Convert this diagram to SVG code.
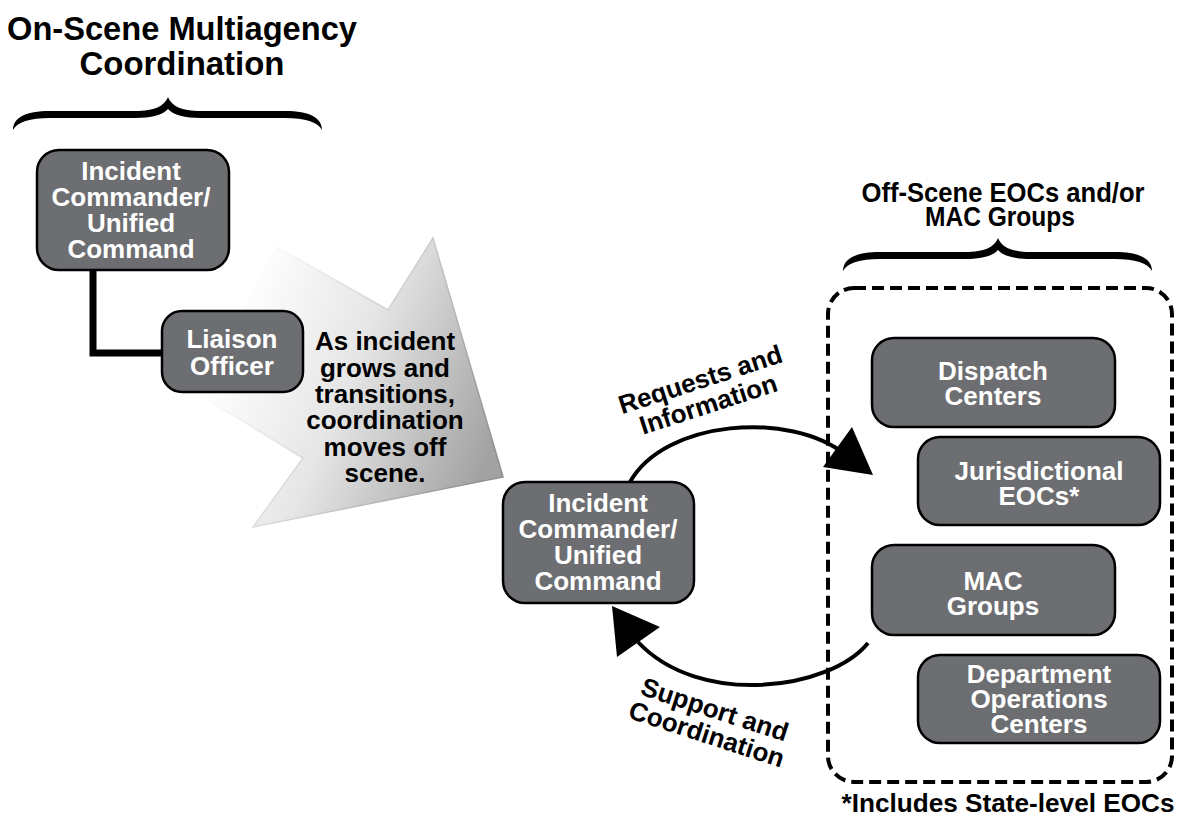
<svg xmlns="http://www.w3.org/2000/svg" xmlns:xlink="http://www.w3.org/1999/xlink" width="1177" height="817" viewBox="0 0 1177 817">
<defs>
<style>
text{font-family:"Liberation Sans",Arial,sans-serif;font-weight:bold;text-anchor:middle}
.title{font-size:34px;fill:#000}
.lbl{font-size:26px;fill:#000}
.box{fill:#6d6e71;stroke:#000;stroke-width:2.5}
.bt{font-size:26px;fill:#fff}
.conn{fill:none;stroke:#000;stroke-width:4}
.head{fill:#000;stroke:none}
</style>
<linearGradient id="ag" gradientUnits="userSpaceOnUse" x1="230" y1="320" x2="500" y2="430">
<stop offset="0" stop-color="#ffffff"/>
<stop offset="0.45" stop-color="#e6e6e6"/>
<stop offset="1" stop-color="#a2a2a2"/>
</linearGradient>
<linearGradient id="asg" gradientUnits="userSpaceOnUse" x1="230" y1="320" x2="500" y2="430">
<stop offset="0" stop-color="#ffffff"/>
<stop offset="0.5" stop-color="#cfcfcf"/>
<stop offset="1" stop-color="#8f8f8f"/>
</linearGradient>
<path id="brace" d="M13,130 C13,118 25,111 50,111 L135,111 C155,111 164,106 168,97 C172,106 181,111 201,111 L285,111 C310,111 322,118 322,130 C318,122 305,118 285,118 L201,118 C185,118 173,115 168,109 C163,115 151,118 135,118 L50,118 C30,118 17,122 13,130 Z" fill="#000"/>
</defs>
<rect width="1177" height="817" fill="#fff"/>

<!-- big transition arrow -->
<g id="transition-arrow">
<polygon points="277,247 388,310 433,238 503,477 253,527 303,458 200,395" fill="url(#ag)" stroke="url(#asg)" stroke-width="1.5" stroke-linejoin="miter"/>
<text class="lbl" x="385" y="350">As incident</text>
<text class="lbl" x="385" y="377">grows and</text>
<text class="lbl" x="385" y="403">transitions,</text>
<text class="lbl" x="385" y="429">coordination</text>
<text class="lbl" x="385" y="456">moves off</text>
<text class="lbl" x="385" y="482">scene.</text>
</g>

<!-- titles and braces -->
<g id="title-onscene">
<text class="title" x="182" y="40" textLength="350" lengthAdjust="spacingAndGlyphs">On-Scene Multiagency</text>
<text class="title" x="182" y="75" textLength="205" lengthAdjust="spacingAndGlyphs">Coordination</text>
<use xlink:href="#brace" href="#brace"/>
</g>
<g id="title-offscene">
<text class="title" style="font-size:28px" x="1003" y="202" textLength="283" lengthAdjust="spacingAndGlyphs">Off-Scene EOCs and/or</text>
<text class="title" style="font-size:28px" x="1000" y="226" textLength="150" lengthAdjust="spacingAndGlyphs">MAC Groups</text>
<use xlink:href="#brace" href="#brace" transform="translate(830,141)"/>
</g>

<!-- dashed container -->
<g id="offscene-group">
<rect x="828" y="288" width="344" height="494" rx="26" ry="26" fill="none" stroke="#000" stroke-width="4" stroke-dasharray="12 6"/>
</g>

<!-- connectors -->
<g id="connectors">
<path d="M93,270 V353 H163" fill="none" stroke="#000" stroke-width="7"/>
<path class="conn" d="M630,482 C665,420 790,410 846,455"/>
<polygon class="head" points="852,427 823,467 873,475"/>
<path class="conn" d="M868,643 C830,690 700,708 638,642"/>
<polygon class="head" points="612,606 617,657 660,627"/>
</g>

<g id="label-requests" transform="translate(703,388) rotate(-18)">
<text class="lbl" x="0" y="0">Requests and</text>
<text class="lbl" x="0" y="26">Information</text>
</g>
<g id="label-support" transform="translate(712,718) rotate(18)">
<text class="lbl" x="0" y="0">Support and</text>
<text class="lbl" x="0" y="26">Coordination</text>
</g>

<!-- nodes -->
<g id="ic-onscene">
<rect class="box" x="37" y="150" width="192" height="120" rx="22"/>
<text class="bt" x="131" y="180">Incident</text>
<text class="bt" x="131" y="206">Commander/</text>
<text class="bt" x="131" y="232">Unified</text>
<text class="bt" x="131" y="258">Command</text>
</g>
<g id="liaison">
<rect class="box" x="162" y="311" width="141" height="81" rx="20"/>
<text class="bt" x="232" y="348">Liaison</text>
<text class="bt" x="232" y="375">Officer</text>
</g>
<g id="ic-offscene">
<rect class="box" x="503" y="482" width="191" height="121" rx="22"/>
<text class="bt" x="598" y="512">Incident</text>
<text class="bt" x="598" y="538">Commander/</text>
<text class="bt" x="598" y="564">Unified</text>
<text class="bt" x="598" y="590">Command</text>
</g>
<g id="dispatch">
<rect class="box" x="872" y="338" width="243" height="89" rx="22"/>
<text class="bt" x="993" y="380">Dispatch</text>
<text class="bt" x="993" y="405">Centers</text>
</g>
<g id="jurisdictional">
<rect class="box" x="918" y="437" width="242" height="88" rx="22"/>
<text class="bt" x="1039" y="480">Jurisdictional</text>
<text class="bt" x="1039" y="505">EOCs*</text>
</g>
<g id="mac">
<rect class="box" x="872" y="545" width="243" height="90" rx="22"/>
<text class="bt" x="993" y="590">MAC</text>
<text class="bt" x="993" y="615">Groups</text>
</g>
<g id="doc">
<rect class="box" x="918" y="655" width="242" height="88" rx="22"/>
<text class="bt" x="1039" y="683">Department</text>
<text class="bt" x="1039" y="708">Operations</text>
<text class="bt" x="1039" y="733">Centers</text>
</g>

<g id="footnote">
<text class="lbl" x="1008" y="812" textLength="333" lengthAdjust="spacingAndGlyphs">*Includes State-level EOCs</text>
</g>
</svg>
